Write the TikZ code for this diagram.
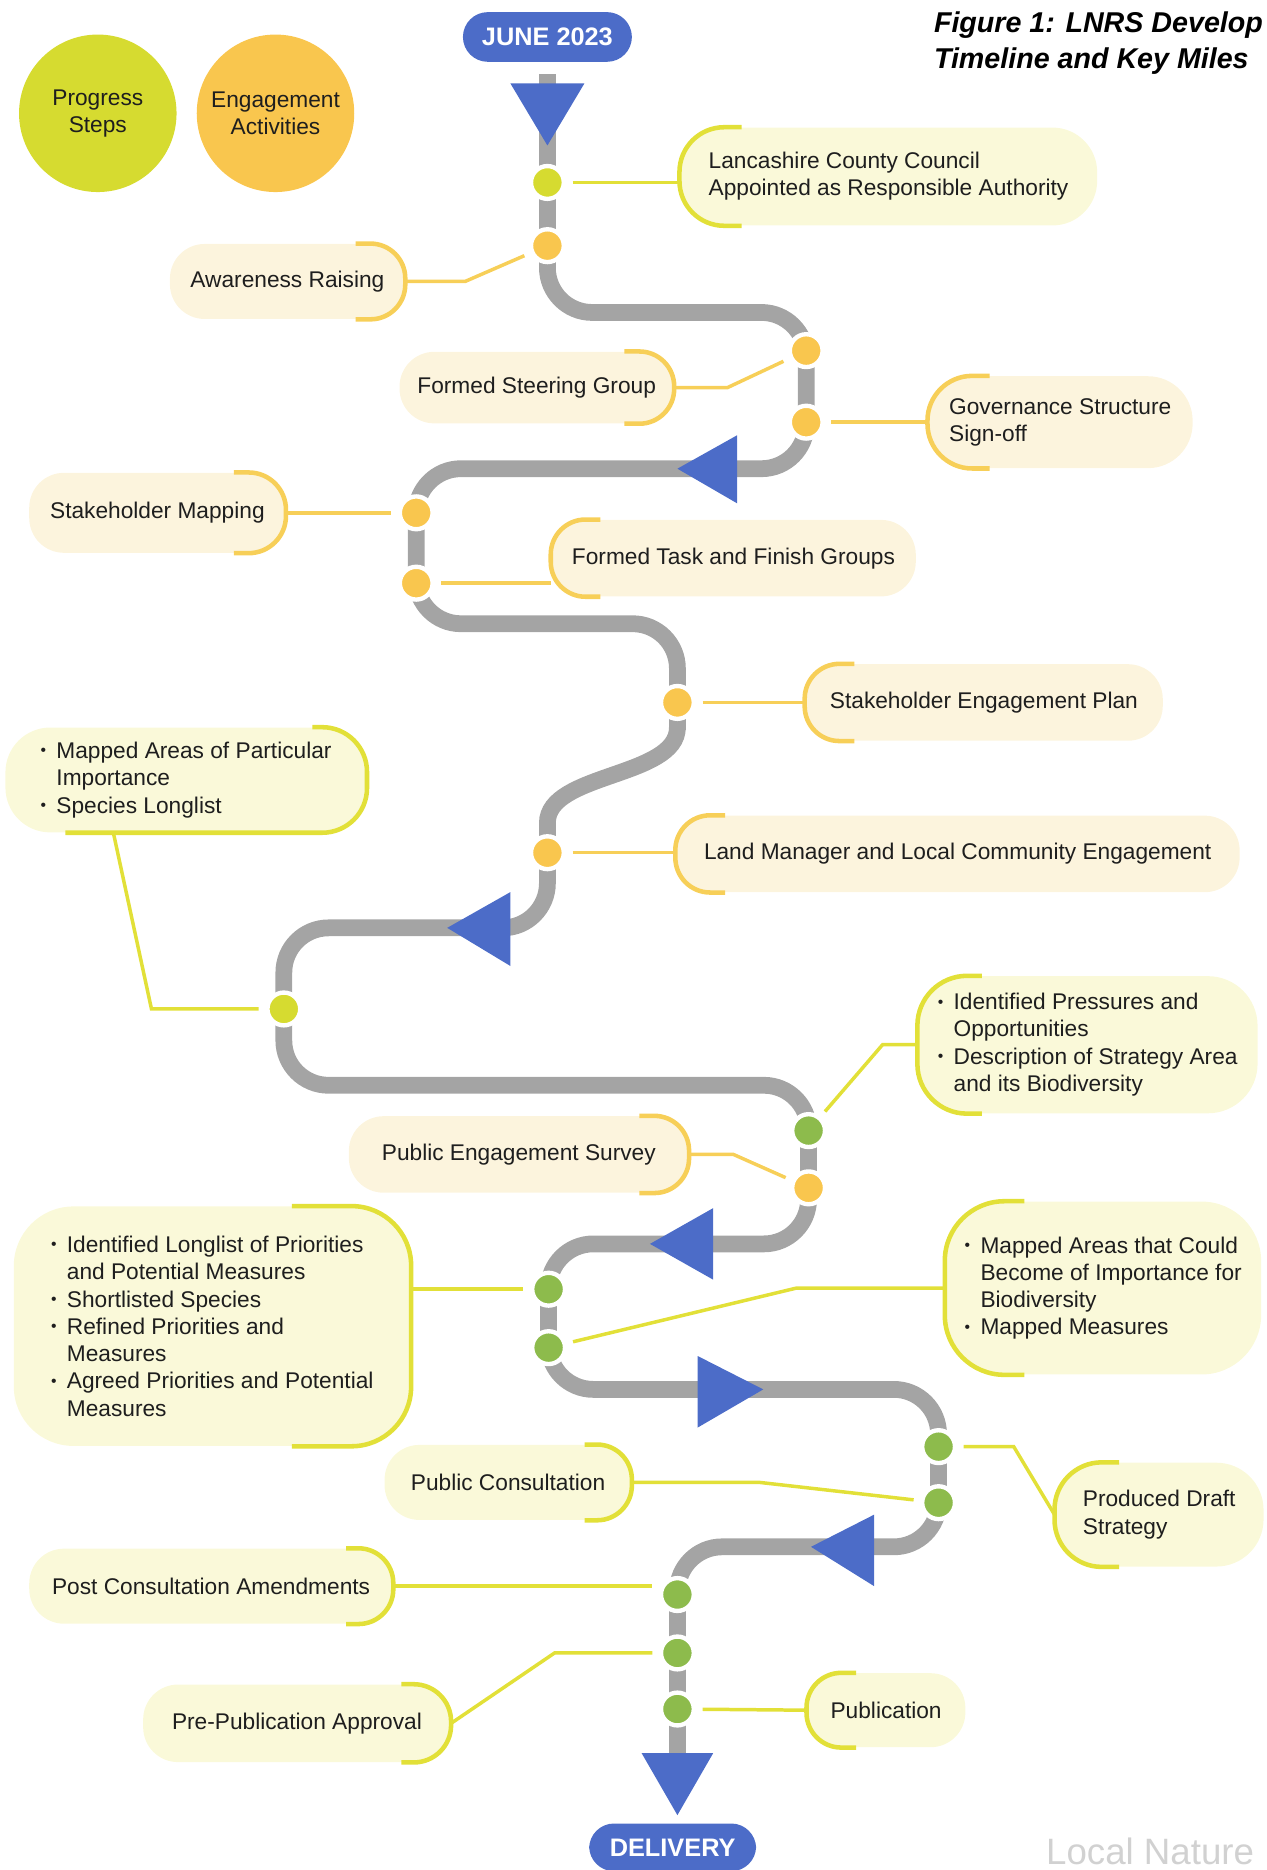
\documentclass[tikz,border=0pt]{standalone}
\usepackage{fontspec}
\setmainfont{Liberation Sans}
\usepackage{tikz}
\usetikzlibrary{positioning}

\definecolor{trackgray}{RGB}{164,164,164}
\definecolor{flowblue}{RGB}{76,108,200}
\definecolor{stepgreen}{RGB}{214,219,48}
\definecolor{engorange}{RGB}{249,198,78}
\definecolor{dotgreen}{RGB}{141,187,76}
\definecolor{linkyellow}{RGB}{226,224,56}
\definecolor{linkorange}{RGB}{247,207,88}
\definecolor{boxcream}{RGB}{252,244,221}
\definecolor{boxlemon}{RGB}{250,249,217}
\definecolor{inktext}{RGB}{30,30,30}

\newcommand{\bl}{\makebox[0.7em][l]{\raisebox{0.12em}{\fontsize{9}{9}\selectfont\textbullet}}}
\newcommand{\ind}{\hspace*{0.7em}}
% bracket on the left / right end of a label box
\newcommand{\brkL}[4]{\draw[#2, rounded corners=#3] ([xshift=#4]#1.north west) -- (#1.north west) -- (#1.south west) -- ([xshift=#4]#1.south west);}
\newcommand{\brkR}[4]{\draw[#2, rounded corners=#3] ([xshift=-#4]#1.north east) -- (#1.north east) -- (#1.south east) -- ([xshift=-#4]#1.south east);}

\begin{document}
\begin{tikzpicture}[x=0.024cm, y=-0.024cm,
    every node/.style={font=\fontsize{13}{15.6}\selectfont, text=inktext},
    track/.style={draw=trackgray, line width=9.6pt},
    flow/.style={fill=flowblue},
    pill/.style={fill=flowblue, text=white, rounded corners=0.5cm, minimum width=3.4cm, minimum height=1cm, font=\bfseries\fontsize{14.5}{16}\selectfont},
    milestone/.style={circle, minimum size=0.66cm, inner sep=0pt, draw=white, line width=2.5pt, outer sep=5pt},
    stepdot/.style={milestone, fill=stepgreen},
    engdot/.style={milestone, fill=engorange},
    greendot/.style={milestone, fill=dotgreen},
    ebox/.style={fill=boxcream, rounded corners=0.7cm, align=left, inner sep=0pt},
    pbox/.style={fill=boxlemon, rounded corners=0.7cm, align=left, inner sep=0pt},
    ebrk/.style={draw=linkorange, line width=2.6pt},
    pbrk/.style={draw=linkyellow, line width=2.6pt},
    elink/.style={draw=linkorange, line width=2pt},
    plink/.style={draw=linkyellow, line width=2pt},
    legendball/.style={circle, minimum size=3.17cm, align=center, inner sep=0pt}]

    \useasboundingbox (0,0) rectangle (1062,1568);
    \clip (0,0) rectangle (1062,1568);

    % Legend
    \node[legendball, fill=stepgreen] (lgstep) at (82,95) {Progress\\Steps};
    \node[legendball, fill=engorange] (lgeng) at (231,95) {Engagement\\Activities};

    % Title
    \node[anchor=west, align=left, text=black, font=\bfseries\itshape\fontsize{16.4}{20.4}\selectfont] (title) at (778,36) {Figure 1: LNRS Develop\\Timeline and Key Miles};

    % Start and end
    \node[pill] (june) at (459,31) {JUNE 2023};
    \node[pill, minimum width=3.36cm, minimum height=0.96cm] (delivery) at (564,1549) {DELIVERY};

    % The road
    \draw[track, rounded corners=0.9cm] ([yshift=-0.24cm]june.south) -- (459,262) -- (676,262) -- (676,393) -- (349,393) -- (349,523) -- (568,523) -- (568,612);
    \draw[track] (568,610) .. controls (568,652) and (459,648) .. (459,690);
    \draw[track, rounded corners=0.9cm] (459,688) -- (459,778) -- (238,778) -- (238,910) -- (678,910) -- (678,1043) -- (460,1043) -- (460,1165) -- (787,1165) -- (787,1297) -- (568,1297) -- (568,1480);

    % Direction arrows
    \fill[flow] (428,70) -- (490,70) -- (459,122) -- cycle;
    \fill[flow] (618,365) -- (618,422) -- (568,393) -- cycle;
    \fill[flow] (428,748) -- (428,810) -- (375,778) -- cycle;
    \fill[flow] (598,1013) -- (598,1073) -- (545,1043) -- cycle;
    \fill[flow] (585,1137) -- (585,1197) -- (640,1165) -- cycle;
    \fill[flow] (733,1270) -- (733,1330) -- (680,1297) -- cycle;
    \fill[flow] (538,1470) -- (598,1470) -- (568,1522) -- cycle;

    % Milestones
    \node[stepdot] (d1) at (459,153) {};
    \node[engdot] (d2) at (459,206) {};
    \node[engdot] (d3) at (676,294) {};
    \node[engdot] (d4) at (676,354) {};
    \node[engdot] (d5) at (349,430) {};
    \node[engdot] (d6) at (349,489) {};
    \node[engdot] (d7) at (568,589) {};
    \node[engdot] (d8) at (459,715) {};
    \node[stepdot] (d9) at (238,846) {};
    \node[greendot] (d10) at (678,948) {};
    \node[engdot] (d11) at (678,996) {};
    \node[greendot] (d12) at (460,1081) {};
    \node[greendot] (d13) at (460,1130) {};
    \node[greendot] (d14) at (787,1213) {};
    \node[greendot] (d15) at (787,1260) {};
    \node[greendot] (d16) at (568,1337) {};
    \node[greendot] (d17) at (568,1386) {};
    \node[greendot] (d18) at (568,1433) {};

    % Labels
    \node[pbox, minimum width=8.4cm, minimum height=1.97cm, rounded corners=0.9cm] (b1) at (745,148) {Lancashire County Council\\Appointed as Responsible Authority};
    \brkL{b1}{pbrk}{0.9cm}{1.25cm}
    \draw[plink] (d1) -- (d1 -| b1.west);

    \node[ebox, minimum width=4.73cm, minimum height=1.51cm] (b2) at (241,236) {Awareness Raising};
    \brkR{b2}{ebrk}{0.7cm}{1cm}
    \draw[elink] (d2) -- (390,236) -- (b2.east);

    \node[ebox, minimum width=5.52cm, minimum height=1.44cm] (b3) at (450,325) {Formed Steering Group};
    \brkR{b3}{ebrk}{0.7cm}{1cm}
    \draw[elink] (d3) -- (610,325) -- (b3.east);

    \node[ebox, minimum width=5.33cm, minimum height=1.85cm, rounded corners=0.9cm] (b4) at (889,354) {Governance Structure\\Sign-off};
    \brkL{b4}{ebrk}{0.9cm}{1.25cm}
    \draw[elink] (d4) -- (b4.west);

    \node[ebox, minimum width=5.16cm, minimum height=1.61cm] (b5) at (132,430) {Stakeholder Mapping};
    \brkR{b5}{ebrk}{0.75cm}{1.05cm}
    \draw[elink] (b5.east) -- (d5);

    \node[ebox, minimum width=7.34cm, minimum height=1.54cm] (b6) at (615,468) {Formed Task and Finish Groups};
    \brkL{b6}{ebrk}{0.7cm}{1cm}
    \draw[elink] (d6) -- (d6 -| b6.west);

    \node[ebox, minimum width=7.2cm, minimum height=1.54cm] (b7) at (825,589) {Stakeholder Engagement Plan};
    \brkL{b7}{ebrk}{0.7cm}{1cm}
    \draw[elink] (d7) -- (b7.west);

    \node[ebox, minimum width=11.35cm, minimum height=1.54cm] (b8) at (803,716) {Land Manager and Local Community Engagement};
    \brkL{b8}{ebrk}{0.7cm}{1cm}
    \draw[elink] (d8) -- (d8 -| b8.west);

    \node[pbox, minimum width=7.27cm, minimum height=2.11cm, rounded corners=0.9cm] (b9) at (156,654) {\bl Mapped Areas of Particular\\\ind Importance\\\bl Species Longlist};
    \draw[pbrk, rounded corners=0.9cm] ([xshift=-1.1cm]b9.north east) -- (b9.north east) -- (b9.south east) -- ([xshift=-6.07cm]b9.south east);
    \coordinate (b9tap) at (95,698);
    \draw[plink] (b9tap) -- (127,846) -- (d9);

    \node[pbox, minimum width=6.84cm, minimum height=2.76cm, rounded corners=1cm] (b10) at (912,876) {\bl Identified Pressures and\\\ind Opportunities\\\bl Description of Strategy Area\\\ind and its Biodiversity};
    \brkL{b10}{pbrk}{1cm}{1.3cm}
    \draw[plink] (d10) -- (740,876) -- (b10.west);

    \node[ebox, minimum width=6.84cm, minimum height=1.54cm] (b11) at (435,968) {Public Engagement Survey};
    \brkR{b11}{ebrk}{0.7cm}{1cm}
    \draw[elink] (d11) -- (615,968) -- (b11.east);

    \node[pbox, minimum width=7.99cm, minimum height=4.82cm, rounded corners=1.2cm] (b12) at (178,1112) {\bl Identified Longlist of Priorities\\\ind and Potential Measures\\\bl Shortlisted Species\\\bl Refined Priorities and\\\ind Measures\\\bl Agreed Priorities and Potential\\\ind Measures};
    \brkR{b12}{pbrk}{1.2cm}{2.4cm}
    \draw[plink] (b12.east |- d12) -- (d12);

    \node[pbox, minimum width=6.36cm, minimum height=3.48cm, rounded corners=1.2cm] (b13) at (925,1080) {\bl Mapped Areas that Could\\\ind Become of Importance for\\\ind Biodiversity\\\bl Mapped Measures};
    \brkL{b13}{pbrk}{1.2cm}{1.6cm}
    \draw[plink] (d13) -- (668,1080) -- (b13.west);

    \node[pbox, minimum width=4.97cm, minimum height=1.51cm] (b14) at (426,1243) {Public Consultation};
    \brkR{b14}{pbrk}{0.7cm}{0.95cm}
    \draw[plink] (b14.east) -- (637,1243) -- (d15);

    \node[pbox, minimum width=4.2cm, minimum height=2.09cm, rounded corners=0.95cm] (b15) at (972,1270) {Produced Draft\\Strategy};
    \brkL{b15}{pbrk}{0.95cm}{1.3cm}
    \draw[plink] (d14) -- (850,1213) -- (b15.west);

    \node[pbox, minimum width=7.32cm, minimum height=1.51cm] (b16) at (177,1330) {Post Consultation Amendments};
    \brkR{b16}{pbrk}{0.7cm}{0.95cm}
    \draw[plink] (b16.east) -- (b16.east -| d16.west);

    \node[pbox, minimum width=6.19cm, minimum height=1.56cm] (b17) at (249,1445) {Pre-Publication Approval};
    \brkR{b17}{pbrk}{0.75cm}{1cm}
    \draw[plink] (b17.east) -- (465,1386) -- (d17);

    \node[pbox, minimum width=3.19cm, minimum height=1.49cm] (b18) at (743,1434) {Publication};
    \brkL{b18}{pbrk}{0.7cm}{1cm}
    \draw[plink] (d18) -- (b18.west);

    % Footer mark
    \node[anchor=base west, text=black!18, font=\fontsize{21}{21}\selectfont] (brand) at (872,1563) {Local Nature};
\end{tikzpicture}
\end{document}
